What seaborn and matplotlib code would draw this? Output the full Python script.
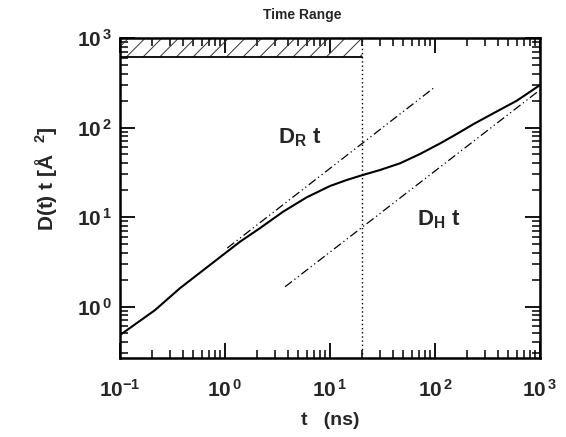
import numpy as np
import pandas as pd
import matplotlib
matplotlib.use("Agg")
import matplotlib.pyplot as plt
import seaborn as sns
from matplotlib.ticker import FixedLocator, LogLocator, NullFormatter

# ---- data ----
curve_t = [0.1, 0.215, 0.372, 1.39, 2.15, 3.59, 6.0, 10, 14.4, 20, 29.9, 46.4,
           72, 112, 161, 232, 359, 600, 1000]
curve_y = [0.48, 0.91, 1.6, 5.3, 7.5, 11.5, 16.6, 22.2, 25.9, 29.2, 33.5, 39.8,
           50.6, 66.5, 84.6, 109, 144, 199, 298]

dr_t = [1.05, 100]
dr_y = [4.5, 284]

dh_t = [3.73, 1000]
dh_y = [1.66, 263]

band_t = [0.1, 20]
band_lo = 620
band_hi = 1000
t_cut = 20

x_ticks = [0.1, 1, 10, 100, 1000]
x_labels = [r"$\mathbf{10^{-1}}$", r"$\mathbf{10^{\,0}}$", r"$\mathbf{10^{\,1}}$",
            r"$\mathbf{10^{\,2}}$", r"$\mathbf{10^{\,3}}$"]
y_ticks = [1, 10, 100, 1000]
y_labels = [r"$\mathbf{10^{\,0}}$", r"$\mathbf{10^{\,1}}$", r"$\mathbf{10^{\,2}}$",
            r"$\mathbf{10^{\,3}}$"]

sns.set_style("ticks")
plt.rcParams['font.family'] = ['Liberation Sans', 'DejaVu Sans']
plt.rcParams['mathtext.fontset'] = 'custom'
plt.rcParams['mathtext.rm'] = 'Liberation Sans'
plt.rcParams['mathtext.bf'] = 'Liberation Sans:bold'
plt.rcParams['mathtext.it'] = 'Liberation Sans:italic'
plt.rcParams['hatch.linewidth'] = 0.7

fig = plt.figure(figsize=(5.66, 4.37), dpi=100)
ax = fig.add_axes([120/566, 1-358/437, 420/566, 320/437])
ax.set_xscale('log')
ax.set_yscale('log')

df_c = pd.DataFrame({'t': curve_t, 'y': curve_y})
sns.lineplot(data=df_c, x='t', y='y', ax=ax, color='black', lw=1.5, sort=False)

df_r = pd.DataFrame({'t': dr_t, 'y': dr_y})
df_h = pd.DataFrame({'t': dh_t, 'y': dh_y})
for d in (df_r, df_h):
    sns.lineplot(data=d, x='t', y='y', ax=ax, color='black', lw=0.9, sort=False)
for ln in ax.lines[1:]:
    ln.set_dashes((7, 2.5, 1, 2.5, 1, 2.5))

ax.fill_between(band_t, band_lo, band_hi, facecolor='none', edgecolor='#333333',
                hatch='//', linewidth=0)
ax.plot(band_t, [band_lo, band_lo], color='black', lw=1.3)
ax.axvline(t_cut, color='black', ls=(0, (1, 2)), lw=1.0)

ax.set_xlim(0.1, 1000)
ax.set_ylim(0.266, 1000)

ax.xaxis.set_major_locator(FixedLocator(x_ticks))
ax.set_xticklabels(x_labels)
ax.yaxis.set_major_locator(FixedLocator(y_ticks))
ax.set_yticklabels(y_labels)
ax.xaxis.set_minor_locator(LogLocator(base=10, subs=np.arange(2, 10), numticks=20))
ax.yaxis.set_minor_locator(LogLocator(base=10, subs=np.arange(2, 10), numticks=20))
ax.xaxis.set_minor_formatter(NullFormatter())
ax.yaxis.set_minor_formatter(NullFormatter())

ax.tick_params(which='both', direction='in', top=True, right=True, color='black')
ax.tick_params(which='major', length=11, width=1.3, labelsize=15)
ax.tick_params(which='minor', length=6, width=1.1)
ax.tick_params(axis='x', which='major', pad=15)
ax.tick_params(axis='y', which='major', pad=6)

for s in ax.spines.values():
    s.set_linewidth(1.8)
    s.set_color('black')

ax.set_xlabel("t   (ns)", fontsize=14, fontweight='bold')
ax.xaxis.set_label_coords(0.5, -0.17)
ax.set_ylabel(r"D(t) t [$\mathbf{\AA}$  $^{\mathbf{2}}$]", fontsize=15, fontweight='bold')
ax.yaxis.set_label_coords(-0.145, 0.56)

ax.text(0.433, 1.072, "Time Range", transform=ax.transAxes, ha='center', va='center',
        fontsize=10, fontweight='bold')

ax.text(3.2, 67, r"$\mathbf{D_{R}\ t}$", fontsize=16, ha='left', va='baseline')
ax.text(67.5, 8.1, r"$\mathbf{D_{H}\ t}$", fontsize=16, ha='left', va='baseline')

fig.savefig("out.png", dpi=100)
